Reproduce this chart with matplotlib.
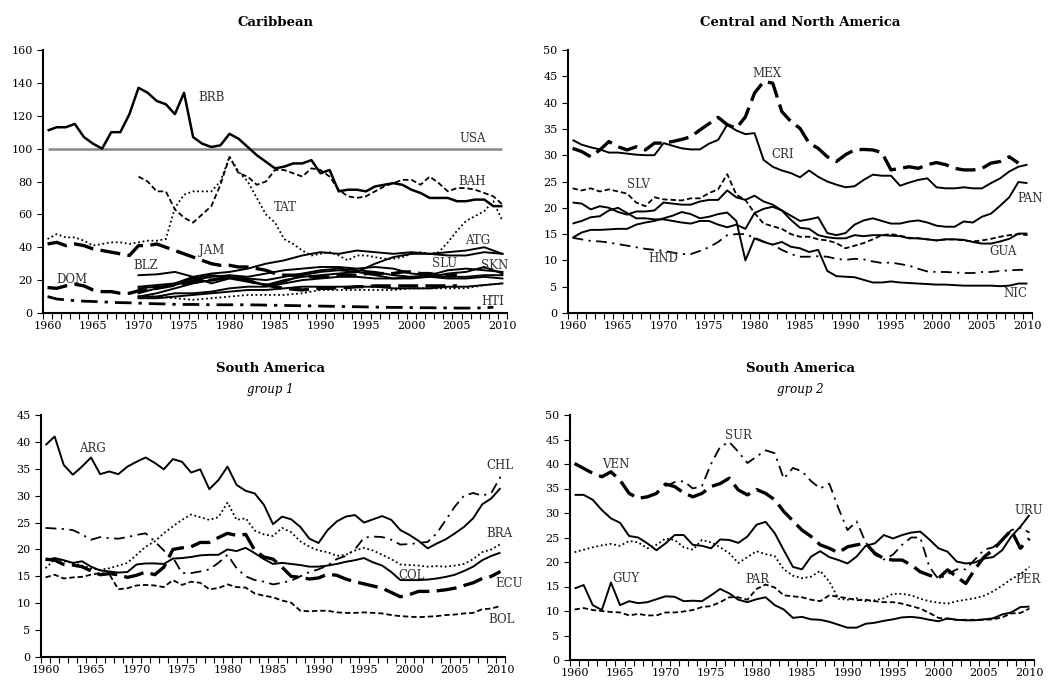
import matplotlib
matplotlib.use("Agg")
import matplotlib.pyplot as plt

plt.rcParams["font.family"] = "DejaVu Serif"

# ---------------- Caribbean (1960-2010 unless noted) ----------------
brb = [111, 113, 113, 115, 107, 103, 100, 110, 110, 121,
       137, 134, 129, 127, 121, 134, 107, 103, 101, 102,
       109, 106, 101, 96, 92, 88, 89, 91, 91, 93,
       85, 87, 74, 75, 75, 74, 77, 78, 79, 78,
       75, 73, 70, 70, 70, 68, 68, 69, 69, 65, 65]
usa = [100] * 51
bah = [83, 80, 74, 74, 63, 58, 55, 60, 65, 78,          # from 1970
       95, 85, 83, 78, 80, 87, 87, 85, 83, 88,
       87, 83, 75, 71, 70, 71, 74, 77, 79, 81,
       81, 78, 83, 79, 74, 76, 76, 75, 73, 71, 66]
tat = [45, 48, 46, 46, 44, 41, 42, 43, 43, 42,
       43, 44, 44, 45, 64, 72, 74, 74, 74, 80,
       95, 86, 80, 70, 60, 55, 45, 42, 38, 35,
       36, 37, 35, 32, 35, 35, 34, 33, 33, 34,
       36, 37, 36, 37, 43, 50, 56, 59, 62, 68, 56]
jam = [42, 43, 41, 42, 41, 39, 38, 37, 36, 35,          # to 2005
       41, 41, 42, 40, 38, 36, 34, 32, 30, 29,
       29, 28, 28, 27, 26, 24, 23, 23, 23, 22,
       22, 22, 23, 23, 23, 24, 24, 24, 24, 25,
       25, 24, 24, 23, 23, 23]
dom = [15.5, 15, 16.5, 17.5, 16.5, 14, 13, 13, 12, 12,  # to 2005
       13.5, 14, 15, 16, 17, 18, 19, 20, 20, 21,
       21.5, 21, 20, 18, 17, 16, 15, 14.5, 14, 14.5,
       15, 15, 15.5, 15.5, 16, 16, 16.5, 16.5, 16.5, 16.5,
       16.5, 16.5, 16.5, 16.5, 16.5, 16.5]
hti = [10, 8.5, 8, 7.5, 7.2, 7, 6.8, 6.5, 6.3, 6.2,     # to 2009
       6, 5.8, 5.6, 5.5, 5.3, 5.2, 5.2, 5.1, 5, 5,
       5, 5, 5, 4.9, 4.8, 4.7, 4.6, 4.5, 4.4, 4.3,
       4.2, 4.1, 4, 3.9, 3.8, 3.7, 3.6, 3.5, 3.4, 3.4,
       3.3, 3.2, 3.2, 3.1, 3.1, 3, 3, 3, 3.2, 3.5]
# small islands, read every second year 1970-2010
yrs_b = list(range(1970, 2011, 2))
atg = [12, 15, 18, 22, 24, 25, 27, 30, 32, 35, 37, 36, 38, 37, 36, 37, 36, 37, 38, 40, 36]
blz = [23, 23.5, 25, 22, 18, 21, 19, 17, 19, 23, 25, 26, 25, 23, 21, 22, 23, 22, 22, 23, 23]
slu = [15, 16, 17, 20, 22, 23, 22, 24, 26, 27, 28, 28, 27, 28, 27, 24, 23, 26, 27, 26, 25]
skn = [10, 12, 15, 18, 20, 22, 21, 20, 22, 24, 26, 27, 26, 25, 23, 22, 22, 24, 25, 28, 24]
grd = [16, 17, 18, 21, 23, 22, 20, 17, 20, 22, 23, 24, 25, 30, 34, 36, 36, 35, 35, 37, 36]
vct = [10, 10, 12, 12, 13, 15, 16, 16, 18, 20, 21, 22, 22, 21, 21, 21, 22, 21, 21, 22, 21]
dma = [9, 9, 10, 11, 12, 13, 14, 14, 15, 16, 16, 16, 16, 16, 15, 15, 15, 16, 16, 17, 18]
cub = [10, 10, 9, 8, 9, 10, 11, 11, 11, 12, 14, 14, 14, 14, 14, 15, 15, 15, 15, 17, 18]

# ---------------- Central and North America ----------------
mex = [31.3, 30.7, 29.7, 31, 32.6, 31.6, 31, 31.6, 31, 32.3,   # to 2009
       32.3, 32.6, 33, 33.5, 34.8, 36, 37.2, 35.8, 35.1, 37.3,
       41.8, 44, 43.7, 38.3, 36.4, 35.1, 32.3, 31.3, 29.7, 28.8,
       30.1, 31, 31.1, 31, 30.5, 27.2, 27.5, 27.8, 27.5, 28.2,
       28.6, 28.2, 27.5, 27.2, 27.2, 27.5, 28.5, 28.8, 29.7, 28.5]
cri = [32.9, 32, 31.5, 31.1, 30.5, 30.5, 30.3, 30.1, 30, 30,
       32.3, 31.8, 31.3, 31.1, 31.1, 32.2, 32.9, 35.8, 34.7, 34,
       34.2, 29.1, 27.8, 27.1, 26.6, 25.8, 27.1, 25.9, 25, 24.4,
       23.9, 24.1, 25.3, 26.3, 26.1, 26.1, 24.2, 24.8, 25.3, 25.6,
       23.9, 23.7, 23.7, 23.9, 23.7, 23.7, 24.7, 25.6, 26.9, 27.8, 28.2]
slv = [23.7, 23.3, 23.7, 23.1, 23.5, 23.1, 22.7, 21, 20.3, 22,
       21.6, 21.5, 21.4, 21.8, 21.8, 22.8, 23.5, 26.4, 22.5, 21.5,
       19, 17, 16.5, 16, 15, 14.5, 14.5, 14, 13.8, 13.3,
       12.3, 12.8, 13.3, 14, 14.8, 15, 14.7, 14.3, 14.2, 14,
       13.8, 14, 14, 13.8, 13.6, 13.8, 14.1, 14.5, 14.8, 15, 14.8]
pan = [17, 17.5, 18.2, 18.4, 19.5, 20, 19, 18, 18, 17.8,
       17.8, 17.5, 17.2, 17, 17.5, 17.5, 16.8, 16.3, 16.8, 16,
       19, 19.8, 20.2, 19.5, 18.5, 17.5, 17.8, 18.2, 15.2, 14.8,
       15.2, 16.8, 17.6, 18, 17.5, 17, 17, 17.4, 17.6, 17.2,
       16.6, 16.4, 16.4, 17.4, 17.2, 18.3, 18.9, 20.4, 22, 24.9, 24.7]
gua = [21, 20.8, 19.7, 20.3, 20, 19.2, 18.7, 19.3, 19.3, 19.5,
       21, 20.8, 20.6, 20.6, 21.2, 21.5, 21.5, 23.3, 22, 21.5,
       22.3, 21.2, 20.6, 19.5, 17.7, 16.2, 16, 14.8, 14.4, 14.2,
       14.2, 14.8, 14.6, 14.8, 14.8, 14.7, 14.6, 14.2, 14.2, 14,
       13.8, 14, 14, 13.9, 13.5, 13.2, 13.2, 13.6, 14.1, 15.1, 15.1]
nic = [14.3, 15.3, 15.8, 15.8, 15.9, 16, 16, 16.8, 17.2, 17.5,
       18, 18.5, 19.2, 18.8, 18, 18.3, 18.8, 19.1, 17.5, 10,
       14.2, 13.5, 13, 13.5, 12.6, 12.3, 11.6, 12, 8, 7,
       6.9, 6.8, 6.3, 5.8, 5.8, 6, 5.8, 5.7, 5.6, 5.5,
       5.4, 5.4, 5.3, 5.2, 5.2, 5.2, 5.2, 5.1, 5.2, 5.6, 5.6]
hnd = [14.3, 14, 13.7, 13.6, 13.4, 13.1, 12.8, 12.5, 12.2, 12,
       11.8, 11.5, 11.2, 11.2, 11.8, 12.5, 13.5, 14.8, 15, 15,
       14.3, 13.6, 13, 12, 11.2, 10.7, 10.7, 10.8, 10.7, 10.3,
       10.1, 10.3, 10.2, 9.8, 9.5, 9.6, 9.3, 9, 8.4, 7.9,
       7.8, 7.8, 7.7, 7.6, 7.6, 7.8, 7.8, 8, 8.1, 8.2, 8.2]

# ---------------- South America, group 1 ----------------
arg = [39.4, 41, 35.7, 33.9, 35.4, 37.1, 34, 34.5, 34, 35.4,
       36.3, 37.1, 36.1, 34.9, 36.8, 36.3, 34.3, 34.9, 31.2, 32.9,
       35.4, 32, 30.9, 30.4, 28.3, 24.7, 26.1, 25.6, 24.2, 22,
       21.2, 23.6, 25.2, 26.1, 26.4, 25, 25.6, 26.2, 25.5, 23.6,
       22.7, 21.6, 20.2, 21.1, 21.9, 23, 24.2, 25.8, 28.4, 29.5, 31.4]
chl = [24, 23.9, 23.8, 23.6, 22.8, 21.8, 22.3, 22.1, 22, 22.3,
       22.7, 23, 21.5, 19.8, 18.5, 15.6, 15.6, 15.9, 16.3, 17.5,
       19, 16.5, 15, 14.3, 14, 13.5, 13.8, 14.2, 15, 15.8,
       16.3, 17, 18.2, 18.8, 20, 22.2, 22.4, 22.3, 21.8, 20.9,
       21, 21.2, 21.4, 23, 25.5, 28, 30, 30.5, 30, 30.5, 33.5]
bra = [16.5, 18.2, 17.8, 17.5, 17, 16.5, 16.2, 16.5, 17, 17.5,
       19, 20.5, 21.5, 23, 24.3, 25.5, 26.5, 26, 25.5, 26,
       28.7, 25.5, 25.8, 23.5, 22.8, 22.5, 24, 23.2, 21.5, 20.5,
       19.8, 19.5, 18.8, 19, 19.8, 20.3, 19.8, 19, 18.2, 17.2,
       17.1, 17, 16.8, 16.9, 16.8, 17, 17.3, 18.2, 19.5, 20, 21]
col = [18, 18.4, 18, 17.5, 17.8, 16.8, 16.1, 15.9, 15.7, 15.8,
       17.2, 17.4, 17.4, 17.3, 18.3, 18.4, 18.6, 18.9, 19, 19,
       20, 19.7, 20.3, 19.3, 18.2, 17.3, 17.5, 17.3, 17.1, 16.8,
       16.8, 17, 17.3, 17.7, 18, 18.4, 17.6, 17, 15.8, 14.3,
       14.3, 14.3, 14.4, 14.6, 14.9, 15.3, 16, 16.8, 18, 18.8, 19.4]
ecu = [18.2, 18, 17.2, 17.1, 16.8, 16, 15.3, 15.5, 15.3, 14.8,
       15.2, 15.8, 15.3, 16.7, 20, 20.3, 20.5, 21.3, 21.3, 22.2,
       23, 22.6, 22.8, 19.8, 18.6, 18.2, 16.7, 15, 14.8, 14.5,
       14.7, 15.4, 15.2, 14.5, 14, 13.6, 13.2, 12.8, 12, 11.2,
       11.6, 12.2, 12.2, 12.3, 12.5, 12.8, 13.3, 13.8, 14.6, 15, 15.9]
bol = [14.8, 15.3, 14.6, 14.8, 14.9, 15.3, 15.6, 15.4, 12.6, 12.8,
       13.3, 13.4, 13.3, 13, 14.3, 13.4, 14, 13.8, 12.6, 12.8,
       13.5, 13, 12.9, 11.8, 11.4, 11.1, 10.5, 10.1, 8.6, 8.5,
       8.6, 8.6, 8.3, 8.2, 8.2, 8.3, 8.2, 8.1, 7.8, 7.6,
       7.5, 7.4, 7.5, 7.6, 7.8, 7.9, 8.1, 8.2, 8.9, 9, 9.5]

# ---------------- South America, group 2 ----------------
ven = [40.1, 39.1, 38.1, 37.4, 38.4, 36.7, 34, 33, 33.3, 34,
       35.9, 35.4, 34.1, 33.3, 34, 35.4, 36, 37.1, 34.7, 33.7,
       34.8, 34, 32.7, 30.3, 28.4, 26.5, 25.2, 23.5, 22.8, 21.9,
       23.1, 23.5, 23.8, 21.8, 20.7, 20.4, 20.4, 19.4, 18, 17.3,
       16.7, 18.4, 17, 15.6, 18.5, 21, 22.5, 24.5, 26.5, 22.8, 24.8]
sur = [35.5, 36.3, 36.5, 35, 35.5, 40, 43.5, 44.5, 42.5, 40.2,   # from 1970
       41.5, 42.8, 42.2, 37, 39.2, 38.5, 36.5, 35, 36, 31,
       26.5, 28.3, 24, 21.5, 20.5, 21.5, 23.5, 25, 25, 19,
       16.5, 17.5, 18.5, 18.5, 20.5, 22.5, 23, 24.5, 26.5, 27, 26]
uru = [33.7, 33.7, 32.7, 30.6, 28.9, 28, 25.3, 25, 23.8, 22.4,
       23.8, 25.5, 25.5, 23.5, 23.3, 22.8, 24.6, 24.5, 23.9, 25.2,
       27.6, 28.2, 25.9, 22.4, 19, 18.5, 21.1, 22.2, 21, 20.4,
       19.7, 21.1, 23.3, 23.8, 25.5, 24.8, 25.5, 26, 26.2, 24.6,
       22.8, 22.1, 20.1, 19.7, 19.9, 20.7, 21, 22.4, 25.2, 27.2, 29.6]
per = [22, 22.5, 23, 23.4, 23.7, 23.3, 24.3, 24, 22.8, 23.5,
       24.8, 24.5, 23, 22.5, 24.5, 24, 23, 21.8, 19.8, 21,
       22.2, 21.6, 21.2, 18.5, 17.2, 16.7, 17, 18.2, 16, 12.5,
       12.3, 12.6, 12, 12.2, 12.6, 13.5, 13.5, 13.2, 12.5, 12,
       11.7, 11.5, 12, 12.3, 12.6, 13.1, 14, 15.2, 16.5, 17.5, 19]
guy = [14.6, 15.3, 11.2, 10.2, 15.8, 11.2, 12, 11.6, 11.8, 12.4,
       13, 12.9, 12, 12.1, 12, 13.2, 14.5, 13.6, 12.3, 11.8,
       12.4, 12.8, 11.2, 10.3, 8.6, 8.8, 8.3, 8.2, 7.8, 7.2,
       6.6, 6.6, 7.4, 7.6, 8, 8.3, 8.7, 8.8, 8.6, 8.2,
       7.9, 8.5, 8.2, 8.1, 8.1, 8.3, 8.5, 9.3, 9.7, 10.8, 10.9]
par = [10.3, 10.6, 10.2, 10, 9.8, 9.7, 9.1, 9.4, 9.1, 9.1,
       9.7, 9.7, 9.9, 10.2, 10.8, 11, 11.8, 12.8, 12.8, 12.3,
       14.5, 15.4, 14.8, 13.2, 13, 12.8, 12.3, 12, 13.2, 12.9,
       12.6, 12.2, 12.3, 12, 11.8, 11.8, 11.5, 11, 10.5, 9.6,
       8.6, 8.4, 8.2, 8.2, 8.2, 8.2, 8.3, 8.7, 9.5, 9.6, 10.5]

# line styles
SOLID = dict(color="black", lw=1.4, ls="-")
LONG = dict(color="black", lw=2.4, ls=(0, (6, 2.2)))
SHORT = dict(color="black", lw=1.3, ls=(0, (3, 1.6)))
DOT = dict(color="black", lw=1.3, ls=(0, (1, 1.5)))
DASHDOT = dict(color="black", lw=1.3, ls=(0, (6, 3, 1.2, 3)))
DASHDOT_THICK = dict(color="black", lw=2.0, ls=(0, (6, 2.5, 1.2, 2.5)))
GREY = dict(color="#888888", lw=1.8, ls="-")

LABEL_KW = dict(ha="center", va="center", fontsize=8.5, color="#333333", clip_on=False)


def draw(ax, start, vals, style):
    yrs = list(range(start, start + len(vals)))
    ax.plot(yrs, vals, solid_capstyle="butt", dash_capstyle="butt", **style)


def setup(ax, ymax, ystep):
    ax.set_xlim(1959.5, 2010.5)
    ax.set_ylim(0, ymax)
    ax.set_yticks(range(0, ymax + 1, ystep))
    ax.set_xticks(range(1960, 2011, 5))
    ax.set_xticks([y + 0.5 for y in range(1959, 2011)], minor=True)
    ax.tick_params(axis="x", which="major", length=0, pad=6, labelsize=8)
    ax.tick_params(axis="x", which="minor", length=4, width=0.8, direction="out")
    ax.tick_params(axis="y", length=4, width=0.8, direction="out", labelsize=8)
    for s in ["top", "right"]:
        ax.spines[s].set_visible(False)
    for s in ["left", "bottom"]:
        ax.spines[s].set_linewidth(1.5)


W, H = 1050, 684
fig = plt.figure(figsize=(W / 100, H / 100), dpi=100)


def panel(l, t, r, b):
    return fig.add_axes([l / W, 1 - b / H, (r - l) / W, (b - t) / H])


# ---- panel 1: Caribbean ----
ax1 = panel(43, 50, 507, 313)
setup(ax1, 160, 20)
draw(ax1, 1960, usa, GREY)
draw(ax1, 1960, hti, DASHDOT_THICK)
draw(ax1, 1960, dom, LONG)
draw(ax1, 1960, jam, LONG)
draw(ax1, 1960, tat, DOT)
for s in [atg, blz, slu, skn, grd, vct, dma]:
    ax1.plot(yrs_b, s, **SOLID)
ax1.plot(yrs_b, cub, **DOT)
draw(ax1, 1970, bah, SHORT)
draw(ax1, 1960, brb, dict(SOLID, lw=1.8))
for name, x, y in [("BRB", 1978, 131), ("USA", 2006.7, 106), ("BAH", 2006.7, 80),
                   ("TAT", 1986.1, 64), ("JAM", 1978, 38), ("BLZ", 1970.8, 29),
                   ("DOM", 1962.7, 20.5), ("ATG", 2007.3, 44), ("SLU", 2003.6, 30),
                   ("SKN", 2009.1, 29), ("HTI", 2008.9, 7)]:
    ax1.text(x, y, name, **LABEL_KW)

# ---- panel 2: Central and North America ----
ax2 = panel(568, 50, 1032, 313)
setup(ax2, 50, 5)
draw(ax2, 1960, mex, LONG)
draw(ax2, 1960, cri, SOLID)
draw(ax2, 1960, slv, SHORT)
draw(ax2, 1960, pan, SOLID)
draw(ax2, 1960, gua, SOLID)
draw(ax2, 1960, nic, SOLID)
draw(ax2, 1960, hnd, DASHDOT)
for name, x, y in [("MEX", 1981.4, 45.6), ("CRI", 1983.1, 30.1), ("SLV", 1967.3, 24.5),
                   ("PAN", 2010.3, 21.8), ("GUA", 2007.3, 11.7), ("HND", 1970, 10.4),
                   ("NIC", 2008.7, 3.7)]:
    ax2.text(x, y, name, **LABEL_KW)

# ---- panel 3: South America group 1 ----
ax3 = panel(41, 415, 505, 657)
setup(ax3, 45, 5)
draw(ax3, 1960, arg, SOLID)
draw(ax3, 1960, chl, DASHDOT)
draw(ax3, 1960, bra, DOT)
draw(ax3, 1960, col, SOLID)
draw(ax3, 1960, ecu, LONG)
draw(ax3, 1960, bol, SHORT)
for name, x, y in [("ARG", 1965.2, 38.8), ("CHL", 2009.9, 35.7), ("BRA", 2009.9, 23),
                   ("COL", 2000.2, 15.2), ("ECU", 2010.9, 13.7), ("BOL", 2010.1, 7)]:
    ax3.text(x, y, name, **LABEL_KW)

# ---- panel 4: South America group 2 ----
ax4 = panel(570, 415, 1034, 660)
setup(ax4, 50, 5)
draw(ax4, 1960, ven, LONG)
draw(ax4, 1970, sur, DASHDOT)
draw(ax4, 1960, uru, SOLID)
draw(ax4, 1960, per, DOT)
draw(ax4, 1960, guy, SOLID)
draw(ax4, 1960, par, SHORT)
for name, x, y in [("SUR", 1978, 45.9), ("VEN", 1964.5, 39.8), ("URU", 2009.9, 30.6),
                   ("GUY", 1965.6, 16.7), ("PAR", 1980.1, 16.5), ("PER", 2009.8, 16.5)]:
    ax4.text(x, y, name, **LABEL_KW)

# titles
TITLE_KW = dict(ha="center", va="center", fontsize=9.5, fontweight="bold")
fig.text(275 / W, 1 - 22 / H, "Caribbean", **TITLE_KW)
fig.text(800 / W, 1 - 22 / H, "Central and North America", **TITLE_KW)
fig.text(270 / W, 1 - 369 / H, "South America", **TITLE_KW)
fig.text(270 / W, 1 - 390 / H, "group 1", ha="center", va="center", fontsize=8.5, style="italic")
fig.text(800 / W, 1 - 369 / H, "South America", **TITLE_KW)
fig.text(800 / W, 1 - 390 / H, "group 2", ha="center", va="center", fontsize=8.5, style="italic")

fig.savefig("out.png", dpi=100)
